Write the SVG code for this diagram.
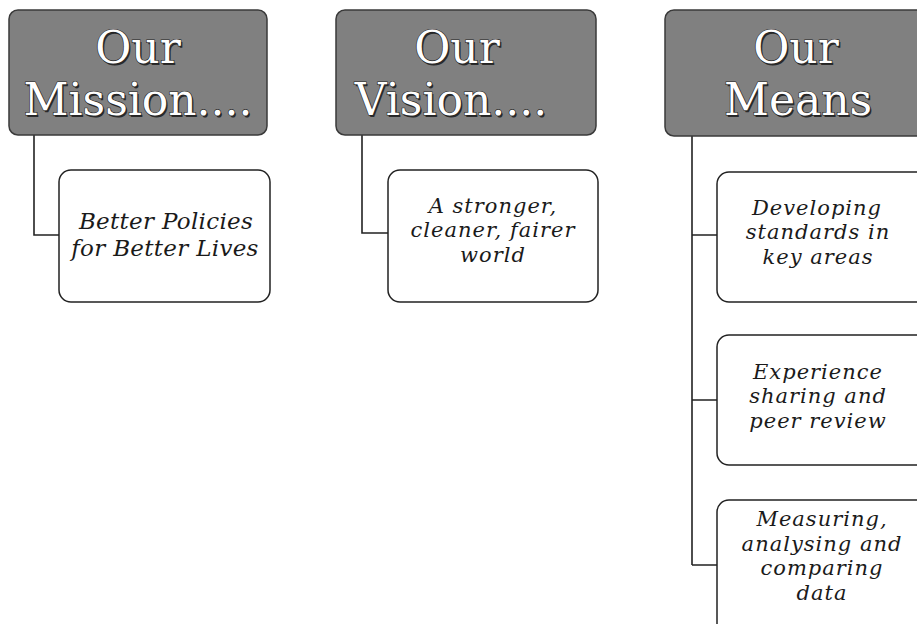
<svg xmlns="http://www.w3.org/2000/svg" width="917" height="624" viewBox="0 0 917 624">
  <style>
    .head rect { fill: #808080; stroke: #3a3a3a; stroke-width: 1.5; }
    .head text { font-family: "DejaVu Serif", "Liberation Serif", serif; font-size: 44px; text-anchor: middle; }
    .head .shade { fill: #2a2a2a; }
    .head .face { fill: #ffffff; stroke: #222222; stroke-width: 1.2; paint-order: stroke; }
    .item rect { fill: #ffffff; stroke: #222222; stroke-width: 1.5; }
    .item text { font-family: "DejaVu Serif", "Liberation Serif", serif; font-style: italic; font-size: 21px; letter-spacing: 1px; fill: #1a1a1a; text-anchor: middle; }
    .item text.big { font-size: 23px; letter-spacing: 0.3px; }
    .links path { fill: none; stroke: #222222; stroke-width: 1.6; }
  </style>

  <!-- connectors from each heading down to its items -->
  <g id="connectors" class="links">
    <path d="M34,135 V235 H59"/>
    <path d="M362,135 V233 H388"/>
    <path d="M692,136 V565 M692,235 H717 M692,400 H717 M692,565 H717"/>
  </g>

  <!-- headings -->
  <g id="mission" class="head">
    <rect x="9" y="10" width="258" height="125" rx="9"/>
    <text class="shade" x="139.5" y="64.5">Our</text>
    <text class="shade" x="139.5" y="116.5">Mission....</text>
    <text class="face" x="138" y="63">Our</text>
    <text class="face" x="138" y="115">Mission....</text>
  </g>

  <g id="vision" class="head">
    <rect x="336" y="10" width="260" height="125" rx="9"/>
    <text class="shade" x="458.5" y="64.5">Our</text>
    <text class="shade" x="452.5" y="116.5">Vision....</text>
    <text class="face" x="457" y="63">Our</text>
    <text class="face" x="451" y="115">Vision....</text>
  </g>

  <g id="means" class="head">
    <rect x="665" y="10" width="262" height="126" rx="9"/>
    <text class="shade" x="797.5" y="64.5">Our</text>
    <text class="shade" x="799.5" y="116.5">Means</text>
    <text class="face" x="796" y="63">Our</text>
    <text class="face" x="798" y="115">Means</text>
  </g>

  <!-- items -->
  <g id="mission-item" class="item">
    <rect x="59" y="170" width="211" height="132" rx="12"/>
    <text class="big" x="166" y="229">Better Policies</text>
    <text class="big" x="165" y="256">for Better Lives</text>
  </g>

  <g id="vision-item" class="item">
    <rect x="388" y="170" width="210" height="132" rx="12"/>
    <text x="493" y="212.5">A stronger,</text>
    <text x="493" y="237">cleaner, fairer</text>
    <text x="493" y="261.5">world</text>
  </g>

  <g id="means-item-1" class="item">
    <rect x="717" y="172" width="212" height="130" rx="12"/>
    <text x="817" y="214.5">Developing</text>
    <text x="818" y="239">standards in</text>
    <text x="818" y="263.5">key areas</text>
  </g>

  <g id="means-item-2" class="item">
    <rect x="717" y="335" width="212" height="130" rx="12"/>
    <text x="818" y="378.5">Experience</text>
    <text x="818" y="403">sharing and</text>
    <text x="818" y="427.5">peer review</text>
  </g>

  <g id="means-item-3" class="item">
    <rect x="717" y="500" width="212" height="140" rx="12"/>
    <text x="822" y="526">Measuring,</text>
    <text x="822" y="550.5">analysing and</text>
    <text x="822" y="575">comparing</text>
    <text x="822" y="599.5">data</text>
  </g>
</svg>
